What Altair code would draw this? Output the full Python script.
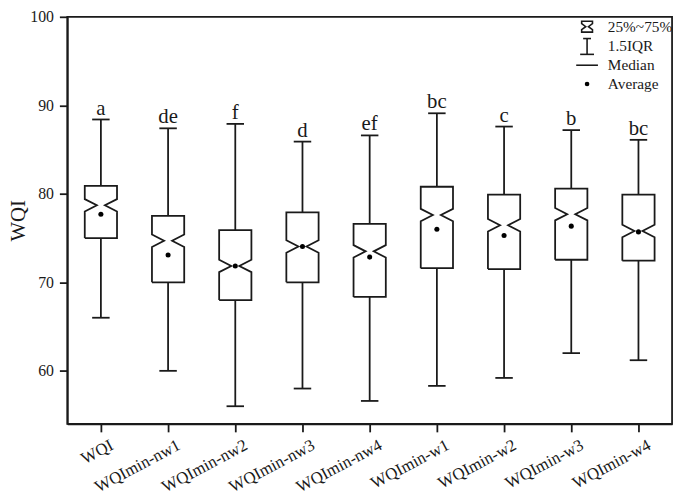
import altair as alt
import pandas as pd

categories = ["WQI", "WQImin-nw1", "WQImin-nw2", "WQImin-nw3", "WQImin-nw4",
              "WQImin-w1", "WQImin-w2", "WQImin-w3", "WQImin-w4"]
whisker_hi = [88.4, 87.4, 87.9, 85.9, 86.6, 89.1, 87.6, 87.2, 86.1]
q3 = [80.9, 77.5, 75.9, 77.9, 76.6, 80.8, 79.9, 80.6, 79.9]
median = [78.7, 74.7, 71.85, 74.05, 73.5, 77.6, 76.45, 77.7, 75.8]
q1 = [75.0, 70.0, 68.0, 70.0, 68.35, 71.6, 71.5, 72.55, 72.45]
whisker_lo = [66.0, 60.0, 56.0, 58.0, 56.6, 58.3, 59.2, 62.0, 61.2]
average = [77.7, 73.1, 71.85, 74.05, 72.85, 76.0, 75.3, 76.35, 75.7]
letters = ["a", "de", "f", "d", "ef", "bc", "c", "b", "bc"]
y_ticks = [60, 70, 80, 90, 100]

FONT = "Liberation Serif"
INK = "#1a1a1a"
HALF_W = 0.24      # box half width (category units)
DEPTH = 0.18       # notch depth
NOTCH = 0.7        # notch half-height (WQI units)
CAP = 0.13         # whisker cap half width

# summary table
summ = pd.DataFrame({
    "i": list(range(len(categories))),
    "cat": categories,
    "whi": whisker_hi, "q3": q3, "med": median, "q1": q1,
    "wlo": whisker_lo, "avg": average, "letter": letters,
})
summ["capl"] = summ["i"] - CAP
summ["capr"] = summ["i"] + CAP

# notched box outlines built from the summary values
rows = []
for i in range(len(categories)):
    pts = [
        (i - HALF_W, q1[i]), (i - HALF_W, median[i] - NOTCH), (i - HALF_W + DEPTH, median[i]),
        (i - HALF_W, median[i] + NOTCH), (i - HALF_W, q3[i]), (i + HALF_W, q3[i]),
        (i + HALF_W, median[i] + NOTCH), (i + HALF_W - DEPTH, median[i]),
        (i + HALF_W, median[i] - NOTCH), (i + HALF_W, q1[i]), (i - HALF_W, q1[i]),
    ]
    for k, (px, py) in enumerate(pts):
        rows.append({"cat": categories[i], "k": k, "px": px, "py": py})
outline = pd.DataFrame(rows)

label_expr = "[" + ",".join("'%s'" % c for c in categories) + "][datum.value]"

xscale = alt.Scale(domain=[-0.5, len(categories) - 0.5], nice=False, zero=False)
yscale = alt.Scale(domain=[54, 100], nice=False, zero=False)

xaxis = alt.Axis(values=list(range(len(categories))), labelExpr=label_expr,
                 labelAngle=-28, title=None, grid=False, labelFontSize=17,
                 labelPadding=5, labelOffset=7, labelOverlap=False, labelBound=False)
yaxis = alt.Axis(values=y_ticks, title="WQI", grid=False, labelFontSize=16,
                 titleFontSize=21, titleFontWeight="normal", titlePadding=1,
                 labelPadding=6, labelOverlap=False, labelFlush=False)

boxes = alt.Chart(outline).mark_line(color=INK, strokeWidth=1.8).encode(
    x=alt.X("px:Q", scale=xscale, axis=xaxis),
    y=alt.Y("py:Q", scale=yscale, axis=yaxis),
    detail="cat:N",
    order="k:Q",
)

base = alt.Chart(summ)
whisk_up = base.mark_rule(color=INK, strokeWidth=1.8).encode(
    x=alt.X("i:Q", scale=xscale), y=alt.Y("q3:Q", scale=yscale), y2="whi:Q")
whisk_dn = base.mark_rule(color=INK, strokeWidth=1.8).encode(
    x=alt.X("i:Q", scale=xscale), y=alt.Y("wlo:Q", scale=yscale), y2="q1:Q")
cap_up = base.mark_rule(color=INK, strokeWidth=1.8).encode(
    x=alt.X("capl:Q", scale=xscale), x2="capr:Q", y=alt.Y("whi:Q", scale=yscale))
cap_dn = base.mark_rule(color=INK, strokeWidth=1.8).encode(
    x=alt.X("capl:Q", scale=xscale), x2="capr:Q", y=alt.Y("wlo:Q", scale=yscale))
dots = base.mark_circle(color="black", size=26, opacity=1).encode(
    x=alt.X("i:Q", scale=xscale), y=alt.Y("avg:Q", scale=yscale))
texts = base.mark_text(font=FONT, fontSize=21, baseline="alphabetic", dy=-5, color=INK).encode(
    x=alt.X("i:Q", scale=xscale), y=alt.Y("whi:Q", scale=yscale), text="letter:N")

# legend (drawn in pixel space, top-right of plot)
one = alt.Chart(pd.DataFrame({"z": [0]}))
LX = 547
SX = 526
leg_labels = ["25%~75%", "1.5IQR", "Median", "Average"]
leg_y = [10, 30, 49, 68]
leg_text = [
    one.mark_text(font=FONT, fontSize=15.5, align="left", baseline="middle", color=INK).encode(
        x=alt.value(LX), y=alt.value(yy), text=alt.value(t))
    for t, yy in zip(leg_labels, leg_y)
]
hourglass = one.mark_point(
    shape="M-1,-1 L1,-1 L1,-0.55 L0.25,0 L1,0.55 L1,1 L-1,1 L-1,0.55 L-0.25,0 L-1,-0.55 Z",
    filled=False, stroke=INK, strokeWidth=1.6, size=120, opacity=1).encode(
    x=alt.value(SX), y=alt.value(leg_y[0]))
ibeam = [
    one.mark_rule(color=INK, strokeWidth=1.6).encode(
        x=alt.value(SX), y=alt.value(leg_y[1] - 8), y2=alt.value(leg_y[1] + 8)),
    one.mark_rule(color=INK, strokeWidth=1.6).encode(
        x=alt.value(SX - 4), x2=alt.value(SX + 4), y=alt.value(leg_y[1] - 8)),
    one.mark_rule(color=INK, strokeWidth=1.6).encode(
        x=alt.value(SX - 7), x2=alt.value(SX + 7), y=alt.value(leg_y[1] + 8)),
]
med_line = one.mark_rule(color=INK, strokeWidth=1.6).encode(
    x=alt.value(SX - 11), x2=alt.value(SX + 11), y=alt.value(leg_y[2]))
avg_dot = one.mark_circle(color="black", size=22, opacity=1).encode(
    x=alt.value(SX), y=alt.value(leg_y[3]))

chart = alt.layer(
    boxes, whisk_up, whisk_dn, cap_up, cap_dn, dots, texts,
    *leg_text, hourglass, *ibeam, med_line, avg_dot
).properties(
    width=612, height=412,
    autosize=alt.AutoSizeParams(type="none"),
    padding={"left": 60, "top": 6, "right": 5, "bottom": 70},
).configure_view(
    stroke=INK, strokeWidth=1.8
).configure_axis(
    labelFont=FONT, titleFont=FONT, labelColor=INK, titleColor=INK,
    domainColor=INK, tickColor=INK, domainWidth=1.8, tickWidth=1.8, tickSize=8,
)

chart.save("out.html", embed_options={"renderer": "svg", "actions": False})
